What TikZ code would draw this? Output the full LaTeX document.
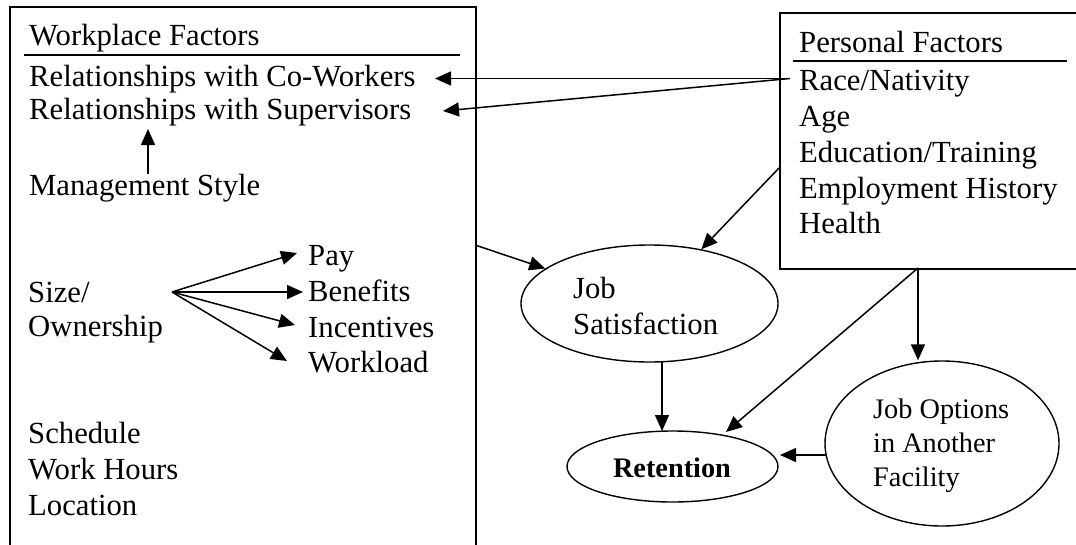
\documentclass[tikz,border=0pt]{standalone}
\usepackage{fontspec}
\setmainfont{Liberation Serif}
\usetikzlibrary{arrows.meta,shapes.geometric}
\begin{document}
\begin{tikzpicture}[x=1pt,y=-1pt,
  txt/.style={anchor=base west,inner sep=0pt,font=\fontsize{30.7}{36}\selectfont},
  stxt/.style={anchor=base west,inner sep=0pt,font=\fontsize{28.3}{34}\selectfont},
  box/.style={draw,line width=1.8pt,rectangle,inner sep=0pt,anchor=north west},
  oval/.style={draw,line width=1.4pt,ellipse,inner sep=0pt},
  arr/.style={line width=1.5pt,-{Triangle[length=16pt,width=14pt]}},
  rule/.style={line width=1.8pt}]
\useasboundingbox (0,0) rectangle (1076,544);
% boxes
\node[box,minimum width=466pt,minimum height=570pt] (wp) at (9,6) {};
\node[box,minimum width=305pt,minimum height=256pt] (pf) at (779,12) {};
% workplace factors
\node[txt] (wpt) at (29,45) {Workplace Factors};
\draw[rule] (24,55) -- (460,55);
\node[txt] (cw) at (29,86) {Relationships with Co-Workers};
\node[txt] (sv) at (29,119) {Relationships with Supervisors};
\node[txt] (ms) at (29,195) {Management Style};
\node[txt] (sz1) at (28,302) {Size/};
\node[txt] (sz2) at (28,336) {Ownership};
\node[txt] (pay) at (308,265) {Pay};
\node[txt] (ben) at (308,301) {Benefits};
\node[txt] (inc) at (308,337) {Incentives};
\node[txt] (wl) at (308,372) {Workload};
\node[txt] (sch) at (28,443) {Schedule};
\node[txt] (wh) at (28,479) {Work Hours};
\node[txt] (loc) at (28,515) {Location};
% personal factors
\node[txt] (pft) at (799,52) {Personal Factors};
\draw[rule] (793,61) -- (1067,61);
\node[txt] (race) at (799,90) {Race/Nativity};
\node[txt] (age) at (799,126) {Age};
\node[txt] (edu) at (799,162) {Education/Training};
\node[txt] (emp) at (799,198) {Employment History};
\node[txt] (hl) at (799,233) {Health};
% ellipses
\node[oval,minimum width=257pt,minimum height=117pt] (js) at (649.5,303.5) {};
\node[txt] (jst1) at (573,298) {Job};
\node[txt] (jst2) at (573,334) {Satisfaction};
\node[oval,minimum width=211pt,minimum height=71pt] (ret) at (672.5,466.5) {};
\node[anchor=base,inner sep=0pt,font=\fontsize{28.3}{34}\selectfont\bfseries] (rett) at (672,477) {Retention};
\node[oval,minimum width=234pt,minimum height=165pt] (jo) at (942,443.5) {};
\node[stxt] (jo1) at (873,418) {Job Options};
\node[stxt] (jo2) at (873,452) {in Another};
\node[stxt] (jo3) at (873,486) {Facility};
% connector ends
\coordinate (rn) at (790,78.5);
\coordinate (cwT) at (435,78.5);
\coordinate (svT) at (443,111);
\coordinate (msB) at (148,174);
\coordinate (msT) at (148,129);
\coordinate (szo) at (172,292);
\coordinate (payT) at (297,253);
\coordinate (benT) at (303,292);
\coordinate (incT) at (295,325);
\coordinate (wlT) at (287,361);
\coordinate (wpR) at (475,245);
\coordinate (pfL) at (779,168);
\coordinate (jsB) at (662,361);
\coordinate (retT) at (662,431);
\coordinate (apex) at (918,268);
\coordinate (retTR) at (726,432);
\coordinate (joL) at (826,455);
\coordinate (retR) at (780,455);
% connectors
\draw[arr] (rn) -- (cwT);
\draw[arr] (rn) -- (svT);
\draw[arr] (msB) -- (msT);
\draw[arr] (szo) -- (payT);
\draw[arr] (szo) -- (benT);
\draw[arr] (szo) -- (incT);
\draw[arr] (szo) -- (wlT);
\draw[arr] (wpR) -- (js);
\draw[arr] (pfL) -- (js);
\draw[arr] (jsB) -- (retT);
\draw[arr] (apex) -- (retTR);
\draw[arr] (apex) -- (apex |- jo.north);
\draw[arr] (joL) -- (retR);
\end{tikzpicture}
\end{document}
